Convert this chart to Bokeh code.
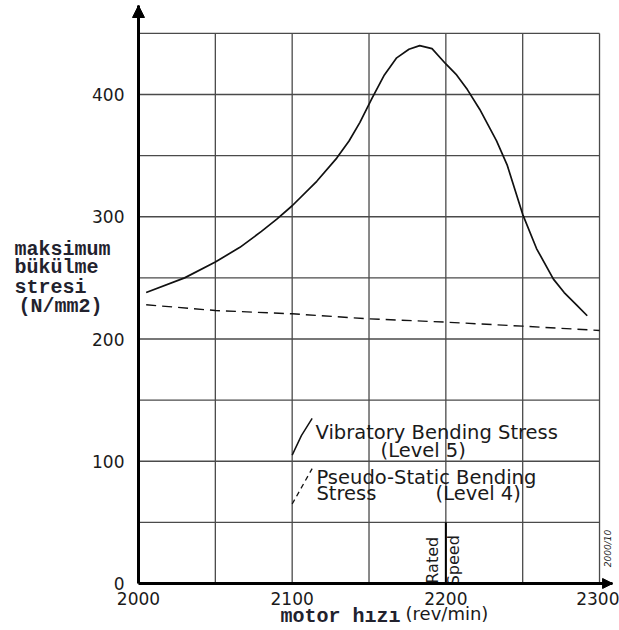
import numpy as np
from bokeh.plotting import figure
from bokeh.models import Range1d, FixedTicker, Arrow, NormalHead
from bokeh.core.properties import value
from bokeh.embed import file_html
from bokeh.resources import INLINE

# ---- data ----
speed_vib = [2005, 2030, 2050, 2066, 2080, 2090, 2100, 2116, 2129, 2137, 2144, 2152,
             2160, 2168, 2176, 2183, 2191, 2200, 2207, 2214, 2222, 2233, 2240, 2250,
             2259, 2270, 2277, 2285, 2292]
stress_vib = [238, 250, 263, 275, 288, 298, 309, 329, 348, 362, 377, 397,
              416, 430, 437, 440, 437.5, 425, 416, 404, 388, 362, 342, 302,
              274, 249, 238, 228, 219]

speed_static = [2005, 2050, 2100, 2150, 2200, 2250, 2300]
stress_static = [228, 223.3, 220.6, 216.5, 213.8, 210.5, 207]

grid_x = [2000, 2050, 2100, 2150, 2200, 2250, 2300]
grid_y = [50, 100, 150, 200, 250, 300, 350, 400, 450]
x_ticks = [2000, 2100, 2200, 2300]
y_ticks = [0, 100, 200, 300, 400]

x_axis_end = 2308.5
y_axis_end = 472.8
rated_speed = 2200

# legend key strokes (data space)
key_vib_x = [2100, 2106, 2113]
key_vib_y = [105, 121, 135]
key_static_x = [2100, 2113]
key_static_y = [65, 94]

SANS = "DejaVu Sans"
MONO = "Liberation Mono"
INK = "#1a1a1a"
TITLE_INK = "#22222e"

# frame covers the whole canvas; axes are fixed at x=2000 / y=0
p = figure(width=619, height=630, output_backend="svg", toolbar_location=None,
           title=None,
           x_range=Range1d(1910.2, 2313.0), y_range=Range1d(-38.45, 476.9),
           min_border_left=0, min_border_right=0, min_border_top=0,
           min_border_bottom=0)
p.outline_line_color = None
p.xgrid.visible = False
p.ygrid.visible = False
p.background_fill_color = "white"
p.border_fill_color = "white"

for ax in (p.xaxis[0], p.yaxis[0]):
    ax.axis_line_width = 3
    ax.axis_line_color = "black"
    ax.major_tick_line_color = None
    ax.minor_tick_line_color = None
    ax.major_label_text_font = SANS
    ax.major_label_text_font_size = "17px"
    ax.major_label_text_color = INK
p.xaxis.ticker = FixedTicker(ticks=x_ticks)
p.yaxis.ticker = FixedTicker(ticks=y_ticks)
p.xaxis.fixed_location = 0
p.yaxis.fixed_location = grid_x[0]
p.xaxis.bounds = (grid_x[0], x_axis_end)
p.yaxis.bounds = (0, y_axis_end)
p.xaxis.major_label_standoff = 3
p.yaxis.major_label_standoff = 8

# grid drawn only inside 2000..2300 x 0..450
p.segment(x0=grid_x, x1=grid_x, y0=[0] * len(grid_x), y1=[max(grid_y)] * len(grid_x),
          line_color="#4a4a4a", line_width=1.3)
p.segment(x0=[grid_x[0]] * len(grid_y), x1=[grid_x[-1]] * len(grid_y), y0=grid_y, y1=grid_y,
          line_color="#4a4a4a", line_width=1.3)

# rated speed marker
p.segment(x0=[rated_speed], x1=[rated_speed], y0=[0], y1=[50], line_color="black", line_width=2)

# curves
p.line(speed_vib, stress_vib, line_color="#111111", line_width=1.7, line_join="round")
p.line(speed_static, stress_static, line_color="#111111", line_width=1.4, line_dash="10 6")

# legend keys
p.line(key_vib_x, key_vib_y, line_color="#111111", line_width=1.5)
p.line(key_static_x, key_static_y, line_color="#111111", line_width=1.3, line_dash="5 4")

# axis arrows
p.add_layout(Arrow(end=NormalHead(size=12, fill_color="black", line_color="black"),
                   x_start=grid_x[0], y_start=455, x_end=grid_x[0], y_end=y_axis_end,
                   line_width=3, line_color="black"))
p.add_layout(Arrow(end=NormalHead(size=10, fill_color="black", line_color="black"),
                   x_start=grid_x[-1], y_start=0, x_end=x_axis_end, y_end=0,
                   line_width=3, line_color="black"))

# annotation texts
p.text(x=[2115.2, 2157.5, 2115.8, 2115.8, 2193.3],
       y=[123.5, 108.8, 86.7, 73.6, 73.6],
       text=["Vibratory Bending Stress", "(Level 5)", "Pseudo-Static Bending",
             "Stress", "(Level 4)"],
       text_font=value(SANS), text_font_size="19.5px", text_color=INK,
       text_align="left", text_baseline="middle")

p.text(x=[2191.3, 2205.0], y=[19, 19], text=["Rated", "Speed"], angle=np.pi / 2,
       text_font=value(SANS), text_font_size="16px", text_color=INK,
       text_align="center", text_baseline="middle")

p.text(x=[2305.2], y=[28.6], text=["2000/10"], angle=np.pi / 2,
       text_font=value(SANS), text_font_size="9px", text_font_style="italic",
       text_color=INK, text_align="center", text_baseline="middle")

# y-axis title
ytitle = ["maksimum", "bükülme", "stresi", "(N/mm2)"]
ytitle_y = [273.2, 258.5, 242.1, 226.6]
ytitle_x = [1919.3, 1919.3, 1919.3, 1921.9]
p.text(x=ytitle_x, y=ytitle_y, text=ytitle, text_font=value(MONO),
       text_font_size="20px", text_font_style="bold", text_color=TITLE_INK,
       text_align="left", text_baseline="middle")

# x-axis title
p.text(x=[2092.4], y=[-27.0], text=["motor hızı"], text_font=value(MONO),
       text_font_size="20px", text_font_style="bold", text_color=TITLE_INK,
       text_align="left", text_baseline="middle")
p.text(x=[2173.8], y=[-24.5], text=["(rev/min)"], text_font=value(SANS),
       text_font_size="18px", text_color=INK,
       text_align="left", text_baseline="middle")

open("out.html", "w").write(file_html(p, INLINE))
